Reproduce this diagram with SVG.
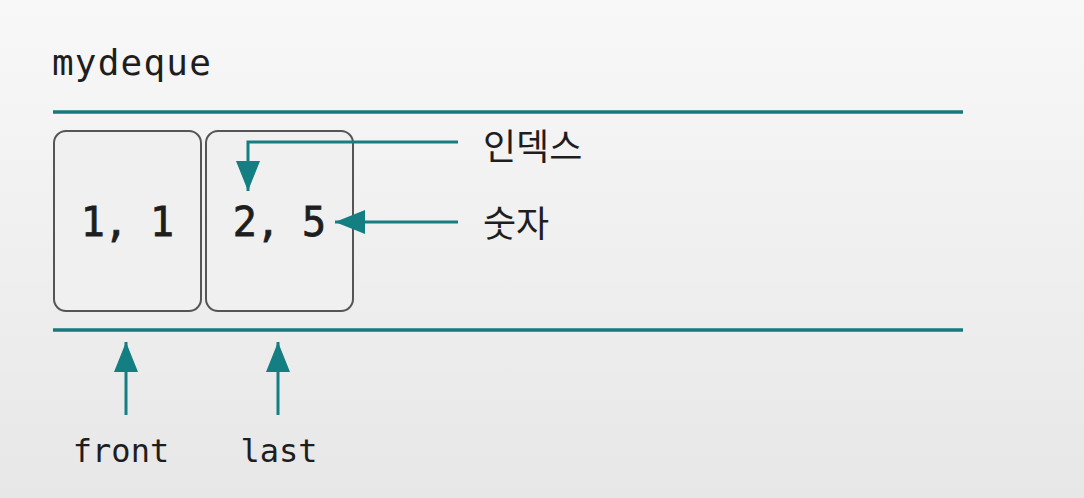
<svg xmlns="http://www.w3.org/2000/svg" width="1084" height="498" viewBox="0 0 1084 498">
<defs>
<linearGradient id="bg" x1="0" y1="0" x2="0" y2="1">
<stop offset="0" stop-color="#f8f8f8"/>
<stop offset="1" stop-color="#e7e7e7"/>
</linearGradient>
<marker id="ah" viewBox="0 0 30 24" refX="30" refY="12" markerWidth="30" markerHeight="24" markerUnits="userSpaceOnUse" orient="auto">
<path d="M0,0 L30,12 L0,24 Z" fill="#137f82"/>
</marker>
<style>
.rail{stroke:#167a7c;stroke-width:3.5;fill:none}
.box{fill:#f0f0f0;stroke:#555;stroke-width:2}
.mono{font-family:"DejaVu Sans Mono","Liberation Mono",monospace;fill:#1e1e1e}
.val{font-size:40px;text-anchor:middle;stroke:#1e1e1e;stroke-width:0.8;letter-spacing:-1px}
.lab{font-size:32px}
.kr{font-family:"Noto Sans CJK KR","Noto Sans",sans-serif;font-size:36px;fill:#1e1e1e}
.conn{stroke:#137f82;stroke-width:3;fill:none}
</style>
</defs>
<rect width="1084" height="498" fill="url(#bg)"/>
<text class="mono" x="52" y="75" font-size="36" letter-spacing="1.2">mydeque</text>
<line class="rail" x1="53" y1="112" x2="963" y2="112"/>
<line class="rail" x1="53" y1="330" x2="963" y2="330"/>
<g id="node1">
<rect class="box" x="54" y="131" width="147" height="180" rx="12"/>
<text class="mono val" x="127" y="236">1, 1</text>
</g>
<g id="node2">
<rect class="box" x="206" y="131" width="147" height="180" rx="12"/>
<text class="mono val" x="279" y="236">2, 5</text>
</g>
<g id="label-index">
<text class="kr" x="483" y="160">인덱스</text>
</g>
<g id="label-number">
<text class="kr" x="483" y="237">숫자</text>
</g>
<g id="label-front">
<text class="mono lab" x="121" y="462" text-anchor="middle">front</text>
</g>
<g id="label-last">
<text class="mono lab" x="279" y="462" text-anchor="middle">last</text>
</g>
<g id="connectors">
<polyline class="conn" points="458,142 248,142 248,191" marker-end="url(#ah)"/>
<line class="conn" x1="458" y1="222" x2="335" y2="222" marker-end="url(#ah)"/>
<line class="conn" x1="126" y1="415" x2="126" y2="342" marker-end="url(#ah)"/>
<line class="conn" x1="278" y1="415" x2="278" y2="342" marker-end="url(#ah)"/>
</g>
</svg>
